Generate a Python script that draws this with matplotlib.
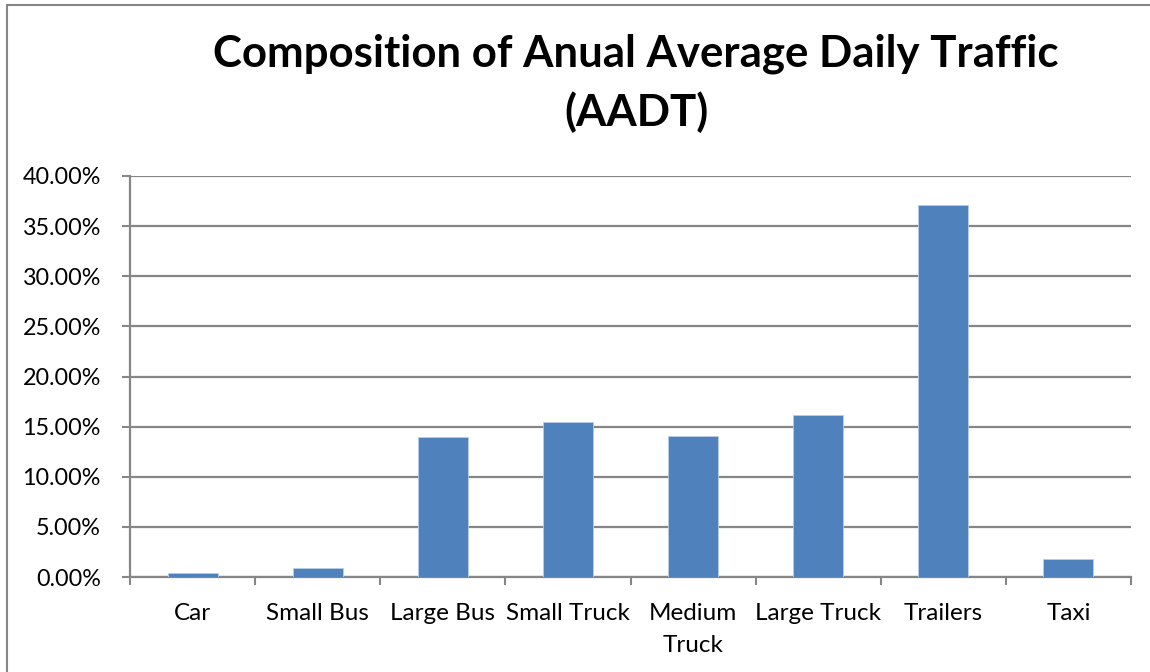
import matplotlib
matplotlib.use("Agg")
import matplotlib.pyplot as plt
from matplotlib.patches import Rectangle
from matplotlib.ticker import FuncFormatter, FixedLocator

categories = ["Car", "Small Bus", "Large Bus", "Small Truck", "Medium\nTruck",
              "Large Truck", "Trailers", "Taxi"]
shares = [0.40, 0.90, 14.00, 15.45, 14.05, 16.20, 37.15, 1.83]  # percent
y_ticks = [0, 5, 10, 15, 20, 25, 30, 35, 40]

W, H = 1150, 672
plt.rcParams['font.family'] = ['Lato', 'DejaVu Sans']

fig = plt.figure(figsize=(W / 100, H / 100), dpi=100)
grid_col = '#868686'

# plot area in pixels
left, right, top, bottom = 130, 1131, 176, 577
ax = fig.add_axes([left / W, (H - bottom) / H, (right - left) / W, (bottom - top) / H])

x = list(range(len(categories)))
ax.bar(x, shares, width=0.4, color='#4F81BD', edgecolor='#B9CDE5', linewidth=0.6, zorder=3)

ax.set_xlim(-0.5, len(categories) - 0.5)
ax.set_ylim(0, 40)
ax.set_yticks(y_ticks)
ax.yaxis.set_major_formatter(FuncFormatter(lambda v, p: f'{v:.2f}%'))
ax.grid(axis='y', color=grid_col, linewidth=1.6, zorder=0)

ax.set_xticks(x)
ax.set_xticklabels(categories, fontsize=17.5, linespacing=1.6)
ax.xaxis.set_minor_locator(FixedLocator([i - 0.5 for i in range(len(categories) + 1)]))
ax.tick_params(axis='x', which='major', length=0, pad=19)
ax.tick_params(axis='x', which='minor', length=6, width=1.5, color=grid_col)
ax.tick_params(axis='y', length=6, width=1.5, color=grid_col, labelsize=16.8, pad=15)

for side in ['top', 'right']:
    ax.spines[side].set_visible(False)
for side in ['left', 'bottom']:
    ax.spines[side].set_color(grid_col)
    ax.spines[side].set_linewidth(1.6)

fig.text(636 / W, 1 - 83 / H, 'Composition of Anual Average Daily Traffic\n(AADT)',
         ha='center', va='center', fontsize=31.5, fontweight='bold', linespacing=1.5)

# chart area border (left and top edges visible)
fig.patches.append(Rectangle((7 / W, -0.05), 1.1, 1.05 - 5 / H, transform=fig.transFigure,
                             fill=False, edgecolor=grid_col, linewidth=1.5))

fig.savefig('out.png', dpi=100)
